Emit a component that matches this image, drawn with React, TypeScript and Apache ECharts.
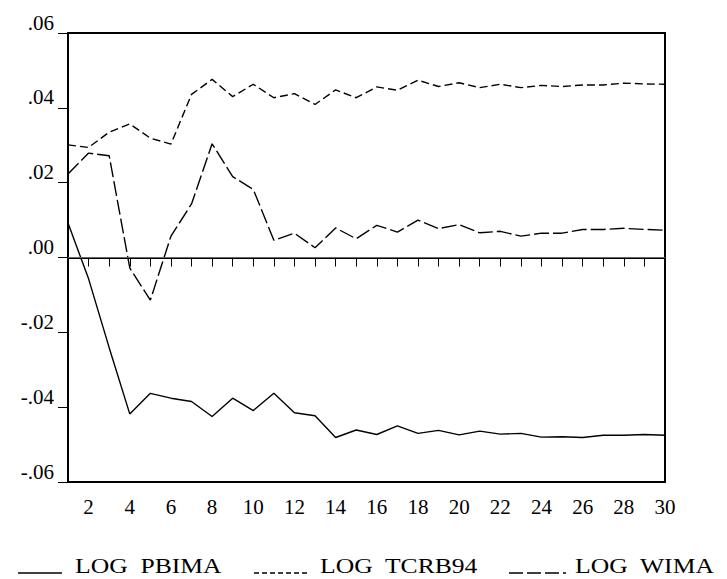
import React, { useEffect, useRef } from "react";
import * as echarts from "echarts";

const periods: number[] = Array.from({ length: 30 }, (_, i) => i + 1);

const logPbima: number[] = [
  0.0092, -0.0057, -0.0241, -0.0418, -0.0363, -0.0376, -0.0385, -0.0425, -0.0376, -0.0409,
  -0.0363, -0.0415, -0.0423, -0.0481, -0.0461, -0.0473, -0.045, -0.047, -0.0462, -0.0474,
  -0.0464, -0.0472, -0.047, -0.048, -0.0479, -0.0481, -0.0475, -0.0475, -0.0473, -0.0475,
];

const logTcrb94: number[] = [
  0.0301, 0.0294, 0.0335, 0.0357, 0.0319, 0.0303, 0.0436, 0.0476, 0.043, 0.0463,
  0.0427, 0.0438, 0.0409, 0.0448, 0.0427, 0.0456, 0.0447, 0.0474, 0.0457, 0.0467,
  0.0454, 0.0463, 0.0454, 0.046, 0.0457, 0.0461, 0.0461, 0.0466, 0.0464, 0.0463,
];

const logWima: number[] = [
  0.0223, 0.0279, 0.0272, -0.0028, -0.0114, 0.0057, 0.0143, 0.0304, 0.0216, 0.0182,
  0.0046, 0.0065, 0.0026, 0.0079, 0.005, 0.0086, 0.0068, 0.01, 0.0077, 0.0088,
  0.0066, 0.007, 0.0057, 0.0065, 0.0065, 0.0075, 0.0075, 0.0078, 0.0075, 0.0073,
];

const seriesNames: string[] = ["LOG  PBIMA", "LOG  TCRB94", "LOG  WIMA"];

const FONT = "Times New Roman, serif";

export default function App() {
  const ref = useRef<HTMLDivElement>(null);

  useEffect(() => {
    if (!ref.current) return;
    const chart = echarts.init(ref.current, null, { renderer: "svg" });
    const toPairs = (arr: number[]) => arr.map((v, i) => [periods[i], v]);
    const fmtY = (v: number) => {
      if (Math.abs(v) < 1e-9) return ".00";
      return v.toFixed(2).replace("0.", ".");
    };
    const legendY = 566;
    const legendItems = [
      { x1: 18, x2: 62, tx: 75, dash: null as number[] | null },
      { x1: 254, x2: 310, tx: 320, dash: [5, 3] },
      { x1: 509, x2: 566, tx: 575, dash: [14, 4] },
    ];
    chart.setOption({
      animation: false,
      backgroundColor: "#fff",
      textStyle: { fontFamily: FONT },
      grid: {
        left: 68,
        top: 33,
        right: 62,
        bottom: 97,
        show: true,
        borderColor: "#000",
        borderWidth: 2,
      },
      xAxis: {
        type: "value",
        min: 1,
        max: 30,
        interval: 1,
        axisLine: { show: true, lineStyle: { color: "#000", width: 2 } },
        axisTick: { show: true, length: 9, lineStyle: { color: "#000", width: 1 } },
        axisLabel: {
          color: "#000",
          fontFamily: FONT,
          fontSize: 21,
          margin: 14,
          formatter: (v: number) => (v % 2 === 0 ? String(v) : ""),
        },
        splitLine: { show: false },
      },
      yAxis: {
        type: "value",
        min: -0.06,
        max: 0.06,
        interval: 0.02,
        axisLine: { show: true, lineStyle: { color: "#000", width: 2 } },
        axisTick: { show: true, length: 10, lineStyle: { color: "#000", width: 1 } },
        axisLabel: {
          color: "#000",
          fontFamily: FONT,
          fontSize: 21,
          margin: 14,
          verticalAlign: "bottom",
          formatter: fmtY,
        },
        splitLine: { show: false },
      },
      series: [
        {
          name: seriesNames[0],
          type: "line",
          data: toPairs(logPbima),
          symbol: "none",
          lineStyle: { color: "#000", width: 1.4, type: "solid" },
          markLine: {
            silent: true,
            symbol: ["none", "none"],
            label: { show: false },
            lineStyle: { color: "#666", width: 1, type: "solid" },
            data: [{ yAxis: 0 }],
          },
        },
        {
          name: seriesNames[1],
          type: "line",
          data: toPairs(logTcrb94),
          symbol: "none",
          lineStyle: { color: "#000", width: 1.4, type: [8, 4] },
        },
        {
          name: seriesNames[2],
          type: "line",
          data: toPairs(logWima),
          symbol: "none",
          lineStyle: { color: "#000", width: 1.4, type: [15, 4] },
        },
      ],
      graphic: legendItems.flatMap((it, i) => [
        {
          type: "line",
          shape: { x1: it.x1, y1: legendY + 7, x2: it.x2, y2: legendY + 7 },
          style: { stroke: "#000", lineWidth: 1.4, lineDash: it.dash || undefined },
        },
        {
          type: "text",
          x: it.tx,
          y: legendY,
          scaleX: 1.22,
          style: {
            text: seriesNames[i],
            fill: "#000",
            fontFamily: FONT,
            fontSize: 21,
            verticalAlign: "middle",
            align: "left",
          },
        },
      ]),
    });
    return () => chart.dispose();
  }, []);

  return (
    <div
      ref={ref}
      style={{ position: "fixed", left: 0, top: 0, width: 727, height: 579 }}
    />
  );
}
